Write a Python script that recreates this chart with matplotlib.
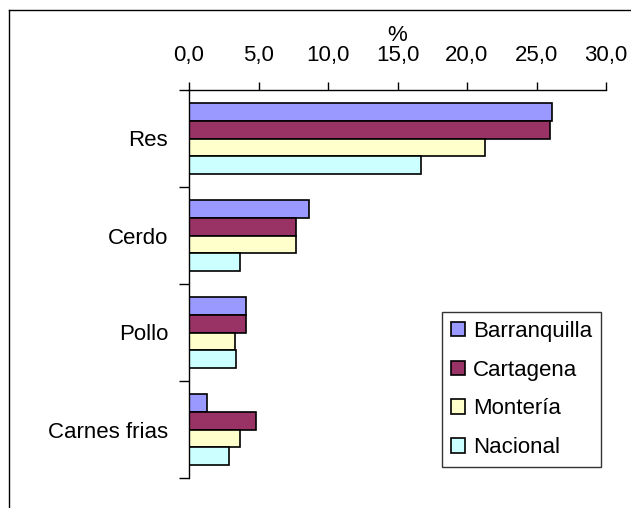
import numpy as np
import matplotlib
matplotlib.use('Agg')
import matplotlib.pyplot as plt
from matplotlib.patches import Rectangle
from matplotlib.lines import Line2D

plt.rcParams['font.family'] = ['Liberation Sans', 'DejaVu Sans']

# datos
categorias = ["Res", "Cerdo", "Pollo", "Carnes frias"]
series = ["Barranquilla", "Cartagena", "Montería", "Nacional"]
barranquilla = [26.1, 8.6, 4.1, 1.3]
cartagena = [26.0, 7.7, 4.1, 4.8]
monteria = [21.3, 7.7, 3.3, 3.7]
nacional = [16.7, 3.7, 3.4, 2.9]
x_ticks = [0, 5, 10, 15, 20, 25, 30]

valores = [barranquilla, cartagena, monteria, nacional]
colores = ["#9999FF", "#993366", "#FFFFCC", "#CCFFFF"]
fs = 16

fig = plt.figure(figsize=(6.31, 5.08), dpi=100)
ax = fig.add_axes([189/631, 1 - 478/508, 417/631, 388/508])

alto = 0.185
y = np.arange(len(categorias))
for i, (vals, c) in enumerate(zip(valores, colores)):
    ax.barh(y + (i - 1.5) * alto, vals, height=alto, color=c,
            edgecolor="black", linewidth=1.2, label=series[i])

ax.set_xlim(0, 30)
ax.set_ylim(len(categorias) - 0.5, -0.5)

# eje x arriba
ax.xaxis.tick_top()
ax.xaxis.set_label_position("top")
ax.set_xticks(x_ticks)
ax.set_xticklabels([f"{v:.1f}".replace(".", ",") for v in x_ticks], fontsize=fs)
ax.tick_params(axis="x", direction="out", length=6, width=1, pad=11)
ax.set_xlabel("%", fontsize=fs, labelpad=3)

# eje y: marcas entre categorias, etiquetas centradas
ax.set_yticks(np.arange(-0.5, len(categorias), 1.0))
ax.set_yticklabels([])
ax.set_yticks(y, minor=True)
ax.set_yticklabels(categorias, minor=True, fontsize=fs)
ax.tick_params(axis="y", which="major", direction="out", length=7, width=1)
ax.tick_params(axis="y", which="minor", length=0, pad=15)

for s in ["right", "bottom"]:
    ax.spines[s].set_visible(False)
for s in ["left", "top"]:
    ax.spines[s].set_linewidth(1)

handles = [Rectangle((0, 0), 1, 1, facecolor=c, edgecolor="black", linewidth=1.2)
           for c in colores]
leg = ax.legend(handles, series, loc="lower left", bbox_to_anchor=(0.607, 0.028),
                borderaxespad=0, fontsize=fs, frameon=True, fancybox=False,
                handlelength=0.63, handleheight=0.63, handletextpad=0.35,
                labelspacing=0.8, borderpad=0.4)
leg.get_frame().set_edgecolor("black")
leg.get_frame().set_linewidth(1)

# marco exterior
fig.add_artist(Line2D([8.5/631, 8.5/631], [0, 1 - 10/508], color="black", lw=1,
                      transform=fig.transFigure))
fig.add_artist(Line2D([8.5/631, 1], [1 - 10/508, 1 - 10/508], color="black", lw=1,
                      transform=fig.transFigure))

fig.savefig("out.png", dpi=100)
